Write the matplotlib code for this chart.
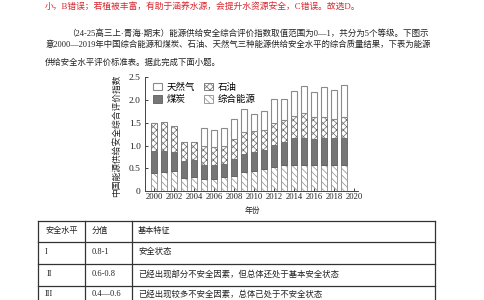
import numpy as np
import matplotlib
matplotlib.use('Agg')
import matplotlib.pyplot as plt
from matplotlib.lines import Line2D

plt.rcParams['font.family'] = ['Liberation Serif', 'Noto Sans CJK SC', 'DejaVu Sans']
plt.rcParams['hatch.linewidth'] = 0.5

# 数据
years = list(range(2000, 2020))
zonghe = [0.39, 0.41, 0.44, 0.29, 0.30, 0.27, 0.27, 0.30, 0.33, 0.41,
          0.43, 0.49, 0.52, 0.58, 0.58, 0.58, 0.57, 0.58, 0.58, 0.58]
meitan_top = [0.88, 0.89, 0.87, 0.66, 0.69, 0.58, 0.58, 0.59, 0.71, 0.81,
              0.85, 0.91, 1.02, 1.07, 1.16, 1.16, 1.14, 1.16, 1.16, 1.16]
shiyou_top = [1.49, 1.53, 1.43, 1.09, 1.09, 1.00, 0.96, 1.00, 1.15, 1.30,
              1.32, 1.35, 1.49, 1.56, 1.66, 1.71, 1.63, 1.63, 1.58, 1.63]
total = [1.49, 1.53, 1.43, 1.09, 1.09, 1.39, 1.34, 1.39, 1.59, 1.80,
         1.70, 1.77, 2.03, 2.03, 2.20, 2.31, 2.19, 2.30, 2.23, 2.33]

meitan = np.array(meitan_top) - np.array(zonghe)
shiyou = np.array(shiyou_top) - np.array(meitan_top)
tianranqi = np.array(total) - np.array(shiyou_top)

series_names = ['天然气', '石油', '煤炭', '综合能源']
yticks = [0, 0.5, 1.0, 1.5, 2.0, 2.5]
ytick_labels = ['0', '0.5', '1.0', '1.5', '2.0', '2.5']
xticks = list(range(2000, 2021, 2))

red_line = '小，B错误；若植被丰富，有助于涵养水源，会提升水资源安全，C错误。故选D。'
para = ['（24-25高三上·青海·期末）能源供给安全综合评价指数取值范围为0—1，共分为5个等级。下图示',
        '意2000—2019年中国综合能源和煤炭、石油、天然气三种能源供给安全水平的综合质量结果，下表为能源',
        '供给安全水平评价标准表。据此完成下面小题。']

table_header = ['安全水平', '分值', '基本特征']
table_rows = [['I', '0.8-1', '安全状态'],
              ['II', '0.6-0.8', '已经出现部分不安全因素，但总体还处于基本安全状态'],
              ['III', '0.4—0.6', '已经出现较多不安全因素，总体已处于不安全状态']]

W, H = 484, 300
fig = plt.figure(figsize=(W / 100, H / 100), dpi=100)


def fx(x):
    return x / W


def fy(y):
    return 1 - y / H


# 题干文字
fig.text(fx(45), fy(6), red_line, color='#d8262e', fontsize=6.35, va='center')
fig.text(fx(67), fy(33), para[0], color='#222222', fontsize=6.15, va='center')
fig.text(fx(45), fy(45), para[1], color='#222222', fontsize=6.05, va='center')
fig.text(fx(45), fy(63), para[2], color='#222222', fontsize=6.0, va='center')

# 柱状图
ax = fig.add_axes([fx(145), fy(191), fx(358) - fx(145), (191 - 77.5) / H])
w = 0.6
b1 = ax.bar(years, zonghe, w, color='white', edgecolor='#8c8c8c', hatch='\\\\\\\\\\', linewidth=0.6)
b2 = ax.bar(years, meitan, w, bottom=zonghe, color='#767676', edgecolor='#5e5e5e', linewidth=0.6)
b3 = ax.bar(years, shiyou, w, bottom=meitan_top, color='white', edgecolor='#6a6a6a', hatch='xxxxx', linewidth=0.6)
b4 = ax.bar(years, tianranqi, w, bottom=shiyou_top, color='white', edgecolor='#8a8a8a', linewidth=0.8)

ax.set_xlim(1999.1, 2020.4)
ax.set_ylim(0, 2.5)
ax.set_yticks(yticks)
ax.set_yticklabels(ytick_labels)
ax.set_xticks(xticks)
ax.set_xticklabels([str(x) for x in xticks])
ax.spines['top'].set_visible(False)
ax.spines['right'].set_visible(False)
for s in ['left', 'bottom']:
    ax.spines[s].set_color('#444444')
    ax.spines[s].set_linewidth(0.7)
ax.tick_params(axis='y', direction='in', length=2, width=0.6, labelsize=6.8, pad=3, colors='#222222')
ax.tick_params(axis='x', direction='in', length=2, width=0.6, labelsize=6.2, pad=1.5, colors='#222222')

ax.set_ylabel('中国能源供给安全综合评价指数', fontsize=6.3, color='#222222')
ax.yaxis.set_label_coords(-0.112, 0.49)
ax.set_xlabel('年份', fontsize=5.6, color='#222222')
ax.xaxis.set_label_coords(0.505, -0.145)

ax.legend([b4, b2, b3, b1], [series_names[0], series_names[2], series_names[1], series_names[3]],
          ncol=2, frameon=False, loc='upper left', bbox_to_anchor=(0.02, 0.99),
          fontsize=6.8, handlelength=0.9, handleheight=0.9, handletextpad=0.5,
          columnspacing=1.0, labelspacing=0.35, borderaxespad=0)

# 评价标准表
lc = '#333333'
x_left, x_c1, x_c2, x_right = 38, 85, 132, 435
rows_y = [221, 242, 264, 286]
for y in rows_y:
    fig.add_artist(Line2D([fx(x_left), fx(x_right)], [fy(y), fy(y)], color=lc, linewidth=0.9))
for x in [x_left, x_c1, x_c2, x_right]:
    fig.add_artist(Line2D([fx(x), fx(x)], [fy(221), fy(301)], color=lc, linewidth=0.9))

text_y = [230.5, 252, 274, 294]
col_x = [45, 92, 138]
for j, t in enumerate(table_header):
    fig.text(fx(col_x[j]), fy(text_y[0]), t, fontsize=5.9, va='center', color='#222222')
for i, row in enumerate(table_rows):
    for j, t in enumerate(row):
        x = col_x[j] + (2 if (j == 0 and i == 1) else 0)
        fig.text(fx(x), fy(text_y[i + 1]), t, fontsize=6.0, va='center', color='#222222')

fig.savefig('out.png', dpi=100)
